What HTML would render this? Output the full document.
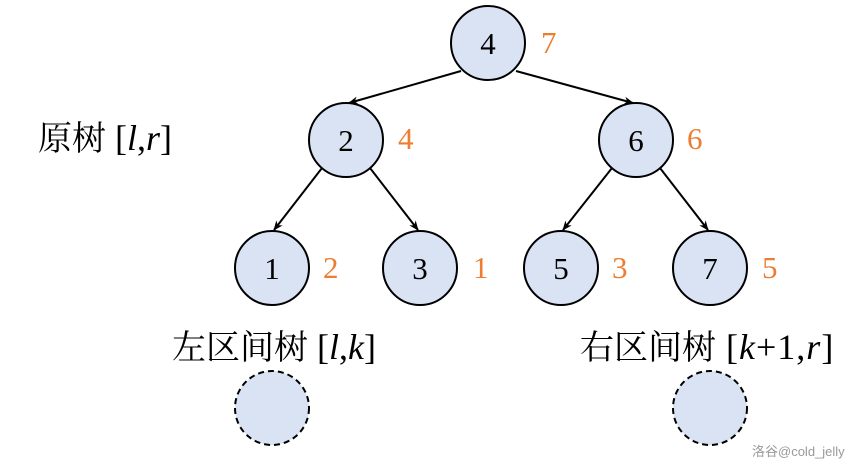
<!DOCTYPE html>
<html><head><meta charset="utf-8"><style>
body{margin:0;background:#fff;}
svg{display:block}
.t{font-family:"Liberation Serif","Noto Serif CJK SC",serif;font-size:34px;fill:#000}
.l{font-size:36px}
.n{font-family:"Liberation Serif",serif;font-size:31px;fill:#000;text-anchor:middle}
.o{font-family:"Liberation Serif",serif;font-size:31px;fill:#ed7d31}
</style></head><body>
<svg width="865" height="472" viewBox="0 0 865 472">
<defs><marker id="a" markerWidth="10" markerHeight="10" refX="9" refY="5" orient="auto" markerUnits="userSpaceOnUse"><path d="M0,1 L10,5 L0,9 L3,5 Z" fill="#000"/></marker></defs>
<g stroke="#000" stroke-width="2" fill="none" marker-end="url(#a)">
<line x1="461" y1="71" x2="349" y2="103"/>
<line x1="516" y1="71" x2="633" y2="103"/>
<line x1="322" y1="168" x2="274" y2="230"/>
<line x1="370" y1="168" x2="418" y2="230"/>
<line x1="612" y1="168" x2="563" y2="230"/>
<line x1="660" y1="168" x2="708" y2="230"/>
</g>
<g fill="#dae3f3" stroke="#000" stroke-width="2">
<circle cx="488" cy="43" r="37"/>
<circle cx="346" cy="140" r="37"/>
<circle cx="636" cy="140" r="37"/>
<circle cx="272" cy="268" r="37"/>
<circle cx="420" cy="268" r="37"/>
<circle cx="561" cy="268" r="37"/>
<circle cx="710" cy="268" r="37"/>
<circle cx="272" cy="408" r="37" stroke-dasharray="6,4"/>
<circle cx="710" cy="408" r="37" stroke-dasharray="6,4"/>
</g>
<text class="n" x="488" y="54">4</text>
<text class="n" x="346" y="151">2</text>
<text class="n" x="636" y="151">6</text>
<text class="n" x="272" y="279">1</text>
<text class="n" x="420" y="279">3</text>
<text class="n" x="561" y="279">5</text>
<text class="n" x="710" y="279">7</text>
<text class="o" x="541" y="53">7</text>
<text class="o" x="398" y="149">4</text>
<text class="o" x="687" y="149">6</text>
<text class="o" x="323" y="278">2</text>
<text class="o" x="473" y="278">1</text>
<text class="o" x="612" y="278">3</text>
<text class="o" x="762" y="278">5</text>
<text class="t" x="38" y="150">原树<tspan class="l"> [<tspan font-style="italic">l</tspan>,<tspan font-style="italic">r</tspan>]</tspan></text>
<text class="t" x="172" y="359">左区间树<tspan class="l"> [<tspan font-style="italic">l</tspan>,<tspan font-style="italic">k</tspan>]</tspan></text>
<text class="t" x="580" y="359">右区间树<tspan class="l" letter-spacing="1"> [<tspan font-style="italic">k</tspan>+1,<tspan font-style="italic">r</tspan>]</tspan></text>
<text x="752" y="456" font-family="Liberation Sans,'Noto Sans CJK SC',sans-serif" font-size="13" fill="#999">洛谷@cold_jelly</text>
</svg>
</body></html>
